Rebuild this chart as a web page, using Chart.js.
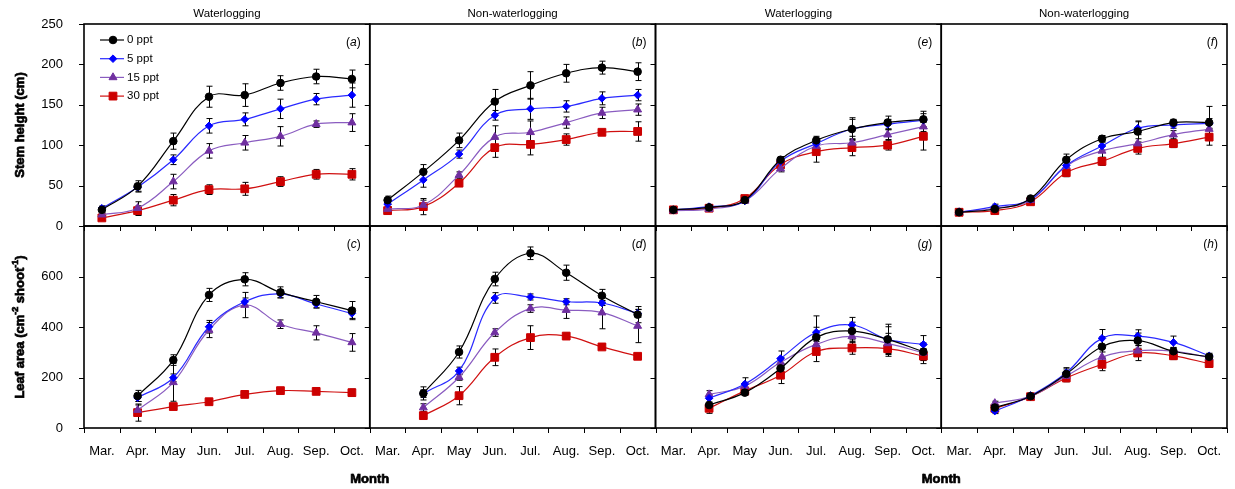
<!DOCTYPE html>
<html>
<head>
<meta charset="utf-8">
<script src="https://cdn.jsdelivr.net/npm/chart.js@4.4.1/dist/chart.umd.min.js"></script>
<style>
  html, body { margin: 0; padding: 0; background: #fff; }
  #wrap { width: 1235px; height: 489px; }
</style>
</head>
<body>
<div id="wrap"><canvas id="c" width="1235" height="489"></canvas></div>
<script>
const months = ['Mar.', 'Apr.', 'May', 'Jun.', 'Jul.', 'Aug.', 'Sep.', 'Oct.'];
const salinity = ['0 ppt', '5 ppt', '15 ppt', '30 ppt'];
const columnTitles = ['Waterlogging', 'Non-waterlogging', 'Waterlogging', 'Non-waterlogging'];
const heightTicks = [0, 50, 100, 150, 200, 250];
const areaTicks = [0, 200, 400, 600, 800];

// Stem height (cm), one row per salinity: 0, 5, 15, 30 ppt
const heightA = [
  [20, 49, 105, 160, 162, 177, 185, 182],
  [22, 48, 82, 124, 132, 145, 157, 162],
  [14, 22, 55, 93, 103, 111, 126, 128],
  [10, 19, 32, 45, 46, 55, 64, 64]
];
const errA = [
  [4, 7, 10, 13, 14, 9, 9, 11],
  [3, 5, 6, 9, 8, 12, 7, 15],
  [2, 8, 9, 9, 9, 12, 4, 11],
  [3, 6, 7, 6, 8, 6, 6, 7]
];
const heightB = [
  [32, 67, 106, 154, 174, 189, 196, 191],
  [27, 57, 89, 137, 145, 148, 158, 162],
  [21, 26, 63, 110, 116, 128, 140, 144],
  [19, 24, 53, 97, 101, 107, 116, 117]
];
const errB = [
  [5, 9, 9, 15, 17, 11, 8, 11],
  [4, 9, 5, 6, 13, 7, 8, 7],
  [3, 6, 4, 14, 14, 7, 7, 7],
  [4, 10, 4, 12, 13, 7, 3, 12]
];
const heightE = [
  [20, 23, 32, 82, 106, 120, 128, 132],
  [20, 24, 31, 80, 102, 120, 126, 131],
  [19, 21, 31, 71, 99, 103, 113, 123],
  [20, 22, 34, 76, 92, 97, 100, 111]
];
const errE = [
  [2, 2, 3, 4, 5, 14, 8, 10],
  [2, 2, 2, 3, 6, 12, 6, 8],
  [2, 2, 2, 4, 5, 8, 6, 6],
  [2, 2, 3, 5, 13, 10, 6, 17]
];
const heightF = [
  [17, 21, 34, 82, 108, 117, 128, 128],
  [17, 24, 33, 75, 99, 121, 125, 127],
  [17, 22, 32, 74, 93, 102, 113, 120],
  [17, 19, 30, 66, 80, 96, 102, 110]
];
const errF = [
  [2, 3, 3, 7, 4, 13, 4, 20],
  [2, 3, 2, 5, 5, 8, 4, 6],
  [2, 2, 2, 5, 8, 6, 5, 6],
  [2, 3, 2, 5, 5, 7, 5, 10]
];

// Leaf area (cm-2 shoot-1), no value in March
const areaC = [
  [null, 127, 269, 527, 589, 537, 500, 465],
  [null, 120, 199, 401, 500, 531, 491, 454],
  [null, 71, 181, 388, 487, 411, 377, 339],
  [null, 61, 85, 104, 133, 148, 145, 140]
];
const errC = [
  [null, 22, 21, 26, 26, 22, 25, 36],
  [null, 15, 15, 25, 15, 15, 15, 20],
  [null, 20, 75, 30, 50, 17, 28, 35],
  [null, 34, 8, 10, 12, 10, 8, 14]
];
const areaD = [
  [null, 137, 301, 590, 692, 615, 524, 449],
  [null, 136, 226, 515, 519, 500, 495, 454],
  [null, 81, 201, 378, 473, 467, 457, 404],
  [null, 49, 128, 280, 358, 364, 321, 284]
];
const errD = [
  [null, 26, 24, 27, 25, 30, 25, 32],
  [null, 15, 15, 21, 12, 12, 10, 15],
  [null, 15, 12, 15, 15, 33, 64, 66],
  [null, 10, 36, 33, 47, 12, 10, 8]
];
const areaG = [
  [null, 91, 140, 236, 359, 384, 351, 302],
  [null, 118, 174, 275, 379, 408, 351, 331],
  [null, 133, 166, 260, 331, 363, 335, 298],
  [null, 78, 147, 209, 303, 317, 314, 285]
];
const errG = [
  [null, 25, 10, 20, 40, 35, 60, 35],
  [null, 15, 25, 30, 65, 30, 50, 35],
  [null, 15, 15, 20, 40, 25, 40, 30],
  [null, 20, 10, 33, 40, 25, 30, 30]
];
const areaH = [
  [null, 81, 126, 214, 322, 346, 304, 282],
  [null, 67, 128, 219, 355, 364, 339, 286],
  [null, 98, 126, 206, 281, 306, 304, 280],
  [null, 78, 124, 198, 252, 297, 286, 255]
];
const errH = [
  [null, 10, 5, 20, 40, 30, 15, 10],
  [null, 10, 5, 20, 35, 25, 25, 10],
  [null, 8, 5, 15, 20, 20, 15, 8],
  [null, 8, 5, 15, 25, 30, 15, 8]
];

const FONT = 'Liberation Sans, Arial, sans-serif';
const markerColors = ['#000000', '#0000ff', '#7030a0', '#cc0000'];
const lineColors = ['#000000', '#2a2aff', '#8a5cc0', '#d01010'];
const pointStyles = ['circle', 'rectRot', 'triangle', 'rect'];
const pointSizes = [3.8, 3.8, 4.6, 5.5];

const panels = [
  { vals: heightA, errs: errA, row: 0, col: 0, tag: 'a' },
  { vals: heightB, errs: errB, row: 0, col: 1, tag: 'b' },
  { vals: heightE, errs: errE, row: 0, col: 2, tag: 'e' },
  { vals: heightF, errs: errF, row: 0, col: 3, tag: 'f' },
  { vals: areaC, errs: errC, row: 1, col: 0, tag: 'c' },
  { vals: areaD, errs: errD, row: 1, col: 1, tag: 'd' },
  { vals: areaG, errs: errG, row: 1, col: 2, tag: 'g' },
  { vals: areaH, errs: errH, row: 1, col: 3, tag: 'h' }
];
const rowAxes = ['yTop', 'yBot'];

const datasets = [];
panels.forEach(p => {
  p.vals.forEach((vals, s) => {
    datasets.push({
      label: salinity[s],
      data: vals,
      errors: p.errs[s],
      xAxisID: 'x' + p.col,
      yAxisID: rowAxes[p.row],
      borderColor: lineColors[s],
      borderWidth: 1.2,
      tension: 0.4,
      pointStyle: pointStyles[s],
      pointRadius: pointSizes[s],
      pointBackgroundColor: markerColors[s],
      pointBorderColor: markerColors[s],
      pointBorderWidth: 1
    });
  });
});

function zeroPad(s) {
  s.paddingLeft = 0; s.paddingRight = 0; s.paddingTop = 0; s.paddingBottom = 0;
}

const scales = {};
for (let c = 0; c < 4; c++) {
  scales['x' + c] = {
    type: 'category',
    labels: months,
    position: 'bottom',
    stack: 'cols',
    stackWeight: 1,
    weight: c,
    offset: true,
    grid: { display: false },
    border: { display: false },
    ticks: { color: '#000', font: { family: FONT, size: 13 }, padding: 8, maxRotation: 0, autoSkip: false },
    afterFit: s => { s.height = 61; zeroPad(s); }
  };
}
scales.yTop = {
  type: 'linear', position: 'left', stack: 'rows', stackWeight: 1, weight: 1,
  min: 0, max: 250,
  grid: { display: false }, border: { display: false },
  ticks: { stepSize: 50, color: '#000', font: { family: FONT, size: 13 }, padding: 13 },
  afterFit: s => { s.width = 84; zeroPad(s); }
};
scales.yBot = {
  type: 'linear', position: 'left', stack: 'rows', stackWeight: 1, weight: 0,
  min: 0, max: 800,
  grid: { display: false }, border: { display: false },
  ticks: { stepSize: 200, color: '#000', font: { family: FONT, size: 13 }, padding: 13,
    callback: v => (v === 800 ? '' : v) },
  afterFit: s => { s.width = 84; zeroPad(s); }
};

function drawMarker(ctx, s, x, y) {
  ctx.fillStyle = markerColors[s];
  ctx.strokeStyle = markerColors[s];
  ctx.lineWidth = 1;
  Chart.helpers.drawPoint(ctx, { pointStyle: pointStyles[s], radius: pointSizes[s], rotation: 0, borderWidth: 1 }, x, y);
}

const panelPlugin = {
  id: 'panels',
  beforeDatasetsDraw(chart) {
    const ctx = chart.ctx;
    ctx.save();
    ctx.strokeStyle = '#000';
    ctx.lineWidth = 1;
    chart.data.datasets.forEach((ds, i) => {
      const meta = chart.getDatasetMeta(i);
      const ys = chart.scales[ds.yAxisID];
      ds.errors.forEach((e, j) => {
        if (e == null || ds.data[j] == null) return;
        const x = Math.round(meta.data[j].x) + 0.5;
        const y1 = ys.getPixelForValue(ds.data[j] + e);
        const y2 = ys.getPixelForValue(Math.max(ds.data[j] - e, 0));
        ctx.beginPath();
        ctx.moveTo(x, y1); ctx.lineTo(x, y2);
        ctx.moveTo(x - 3, y1); ctx.lineTo(x + 3, y1);
        ctx.moveTo(x - 3, y2); ctx.lineTo(x + 3, y2);
        ctx.stroke();
      });
    });
    ctx.restore();
  },
  afterDraw(chart) {
    const ctx = chart.ctx;
    ctx.save();
    ctx.strokeStyle = '#000';
    ctx.fillStyle = '#000';

    panels.forEach(p => {
      const xs = chart.scales['x' + p.col];
      const ys = chart.scales[rowAxes[p.row]];
      const left = xs.left, right = xs.right, top = ys.top, bottom = ys.bottom;
      const ticks = p.row === 0 ? heightTicks : areaTicks;

      ctx.lineWidth = 1;
      ctx.beginPath();
      ticks.forEach(v => {
        const py = Math.round(ys.getPixelForValue(v)) + 0.5;
        ctx.moveTo(right, py); ctx.lineTo(right - 5, py);
        if (p.col === 0) { ctx.moveTo(left, py); ctx.lineTo(left - 5, py); }
      });
      if (p.row === 1) {
        for (let k = 0; k <= months.length; k++) {
          const px = Math.round(xs.getPixelForDecimal(k / months.length)) + 0.5;
          ctx.moveTo(px, bottom); ctx.lineTo(px, bottom + 5);
          ctx.moveTo(px, top); ctx.lineTo(px, top + 5);
        }
      }
      ctx.stroke();

      ctx.lineWidth = 1.6;
      ctx.strokeRect(left, top, right - left, bottom - top);

      // panel tag like (a)
      const tx = right - 9, ty = top + 19;
      ctx.textBaseline = 'middle';
      ctx.textAlign = 'left';
      ctx.font = '12px ' + FONT;
      const wClose = ctx.measureText(')').width;
      const wOpen = ctx.measureText('(').width;
      ctx.font = 'italic 12px ' + FONT;
      const wTag = ctx.measureText(p.tag).width;
      let x0 = tx - wClose - wTag - wOpen;
      ctx.font = '12px ' + FONT;
      ctx.fillText('(', x0, ty);
      ctx.font = 'italic 12px ' + FONT;
      ctx.fillText(p.tag, x0 + wOpen, ty);
      ctx.font = '12px ' + FONT;
      ctx.fillText(')', x0 + wOpen + wTag, ty);
    });

    // column titles
    ctx.font = '11.5px ' + FONT;
    ctx.textAlign = 'center';
    ctx.textBaseline = 'middle';
    for (let c = 0; c < 4; c++) {
      const xs = chart.scales['x' + c];
      ctx.fillText(columnTitles[c], (xs.left + xs.right) / 2, 14);
    }

    // Month titles, centred on the boundaries of each pair
    ctx.font = 'bold 13px ' + FONT;
    ctx.lineWidth = 0.7;
    [chart.scales.x0.right, chart.scales.x2.right].forEach(x => {
      ctx.fillText('Month', x, 479);
      ctx.strokeText('Month', x, 479);
    });

    // y titles
    const yTop = chart.scales.yTop, yBot = chart.scales.yBot;
    ctx.save();
    ctx.translate(20, (yTop.top + yTop.bottom) / 2);
    ctx.rotate(-Math.PI / 2);
    ctx.font = 'bold 13px ' + FONT;
    ctx.fillText('Stem height (cm)', 0, 0);
    ctx.strokeText('Stem height (cm)', 0, 0);
    ctx.restore();

    ctx.save();
    ctx.translate(20, (yBot.top + yBot.bottom) / 2);
    ctx.rotate(-Math.PI / 2);
    ctx.textAlign = 'left';
    const parts = [['Leaf area (cm', false], ['-2', true], [' shoot', false], ['-1', true], [')', false]];
    let total = 0;
    parts.forEach(([t, sup]) => {
      ctx.font = (sup ? 'bold 9px ' : 'bold 13px ') + FONT;
      total += ctx.measureText(t).width;
    });
    let px = -total / 2;
    parts.forEach(([t, sup]) => {
      ctx.font = (sup ? 'bold 9px ' : 'bold 13px ') + FONT;
      const dy = sup ? -4 : 0;
      ctx.fillText(t, px, dy);
      ctx.strokeText(t, px, dy);
      px += ctx.measureText(t).width;
    });
    ctx.restore();

    // legend in panel (a)
    const lx = chart.scales.x0.left, ly = yTop.top;
    ctx.textAlign = 'left';
    ctx.font = '11.5px ' + FONT;
    salinity.forEach((name, s) => {
      const y = ly + 16 + s * 18.7;
      ctx.strokeStyle = lineColors[s];
      ctx.lineWidth = 1.2;
      ctx.beginPath();
      ctx.moveTo(lx + 16, y); ctx.lineTo(lx + 40, y);
      ctx.stroke();
      drawMarker(ctx, s, lx + 29, y);
      ctx.fillStyle = '#000';
      ctx.fillText(name, lx + 43, y);
    });

    ctx.restore();
  }
};

new Chart(document.getElementById('c'), {
  type: 'line',
  data: { labels: months, datasets: datasets },
  options: {
    responsive: false,
    animation: false,
    devicePixelRatio: 1,
    layout: { padding: { top: 24, right: 8, bottom: 0, left: 0 } },
    plugins: { legend: { display: false }, tooltip: { enabled: false } },
    scales: scales
  },
  plugins: [panelPlugin]
});
</script>
</body>
</html>
